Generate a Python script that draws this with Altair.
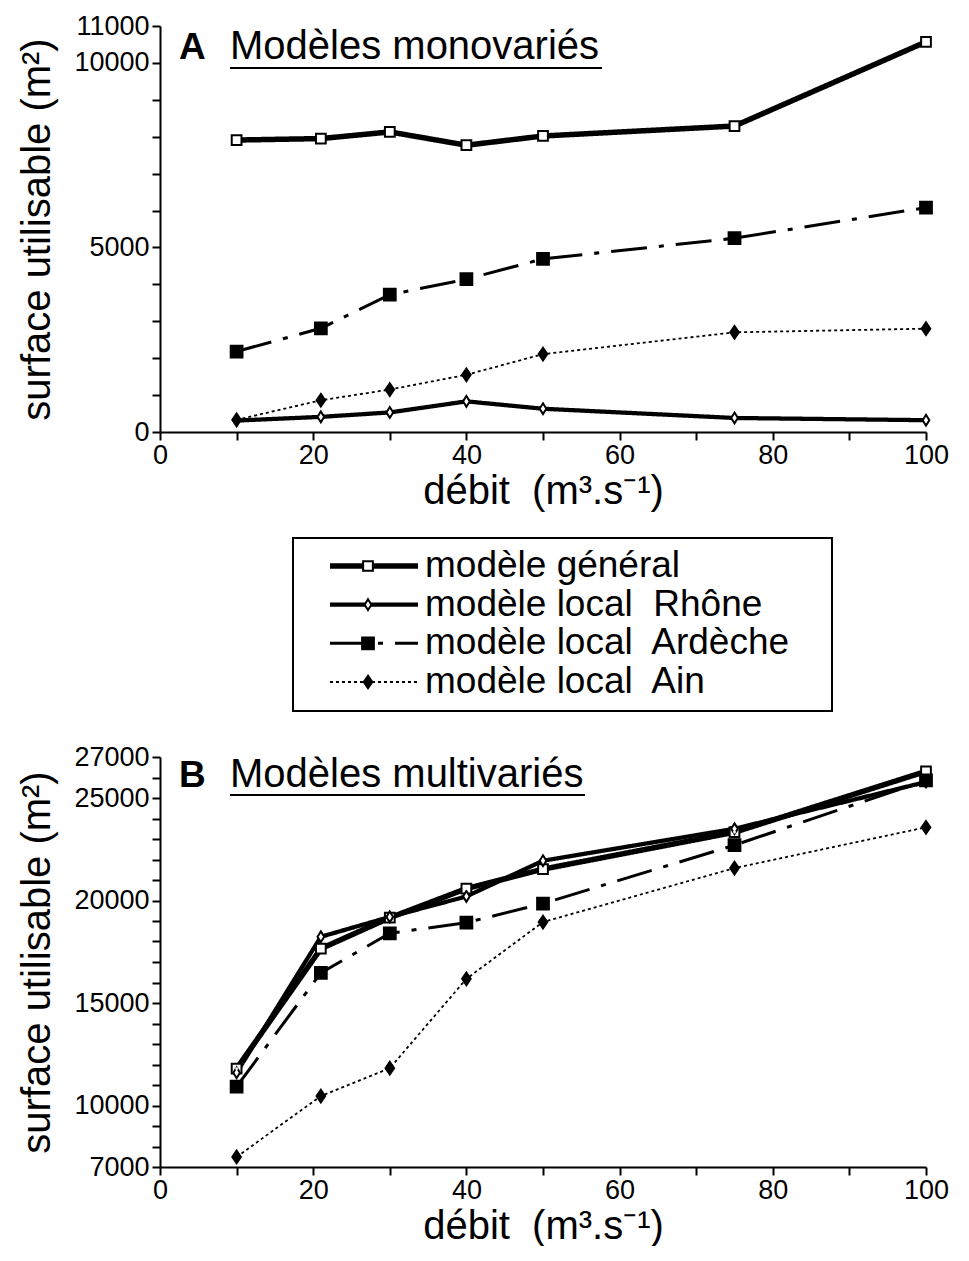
import altair as alt
import pandas as pd

# ---------------- data ----------------
DEBIT = [10, 21, 30, 40, 50, 75, 100]
NB = "\u00a0"
SERIES = ["modèle général", "modèle local" + NB + " Rhône", "modèle local" + NB + " Ardèche", "modèle local" + NB + " Ain"]

# Panel A : modèles monovariés (m2)
A_GENERAL = [7910, 7950, 8130, 7770, 8020, 8290, 10570]
A_RHONE = [310, 410, 530, 830, 630, 380, 320]
A_ARDECHE = [2180, 2810, 3720, 4140, 4690, 5250, 6080]
A_AIN = [330, 860, 1150, 1550, 2110, 2700, 2800]

# Panel B : modèles multivariés (m2)
B_GENERAL = [11800, 17650, 19160, 20580, 21530, 23330, 26300]
B_RHONE = [11600, 18230, 19200, 20200, 21940, 23500, 25780]
B_ARDECHE = [10920, 16470, 18400, 18920, 19850, 22700, 25860]
B_AIN = [7490, 10460, 11820, 16180, 18950, 21580, 23570]

A_YDOMAIN = [0, 11000]
A_YLABELS = [0, 5000, 10000, 11000]
B_YDOMAIN = [7000, 27000]
B_YLABELS = [7000, 10000, 15000, 20000, 25000, 27000]
X_LABELS = [0, 20, 40, 60, 80, 100]

A_LETTER, A_TITLE = "A", "Modèles monovariés"
B_LETTER, B_TITLE = "B", "Modèles multivariés"
Y_TITLE = "surface utilisable (m²)"
X_TITLE = "débit" + NB + " (m³.s⁻¹)"

FONT = "Liberation Sans"

# ---------------- styles ----------------
PW = 766
DASH_RANGE = [[1, 0], [1, 0], [36, 12, 5, 12], [3, 3]]
WIDTH_RANGE = [5.5, 1.8, 2, 2.8]
SHAPE_RANGE = ["square", "M0,-1L0.62,0L0,1L-0.62,0Z", "square", "M0,-1L0.68,0L0,1L-0.68,0Z"]
SIZE_RANGE = [95, 160, 115, 180]
FILL_RANGE = ["white", "white", "black", "black"]

dash_enc = alt.StrokeDash("series:N", scale=alt.Scale(domain=SERIES, range=DASH_RANGE), legend=None)
width_enc = alt.StrokeWidth("series:N", scale=alt.Scale(domain=SERIES, range=WIDTH_RANGE), legend=None)
shape_enc = alt.Shape("series:N", scale=alt.Scale(domain=SERIES, range=SHAPE_RANGE), legend=None)
size_enc = alt.Size("series:N", scale=alt.Scale(domain=SERIES, range=SIZE_RANGE), legend=None)
fill_enc = alt.Fill("series:N", scale=alt.Scale(domain=SERIES, range=FILL_RANGE), legend=None)

DOT_SERIES = [SERIES[0], SERIES[2]]
dot_fill = alt.Fill("series:N", scale=alt.Scale(domain=DOT_SERIES, range=["black", "white"]), legend=None)


def label_expr(vals):
    return "indexof([" + ",".join(str(v) for v in vals) + "], datum.value) >= 0 ? format(datum.value, 'd') : ''"


axis_style = dict(
    domainColor="black", domainWidth=2, tickColor="black", tickWidth=2, tickSize=8,
    labelFont=FONT, labelFontSize=27, labelColor="black", titleFont=FONT, titleFontSize=40,
    titleFontWeight="normal", titleColor="black", grid=False, labelOverlap=False, labelFlush=False,
)


def panel(vals, ydom, ylabels, letter, title, height, ty, uy, ux2):
    rows = []
    for s, arr in zip(SERIES, vals):
        for d, v in zip(DEBIT, arr):
            rows.append({"series": s, "debit": d, "surface": v})
    df = pd.DataFrame(rows)

    x = alt.X("debit:Q", scale=alt.Scale(domain=[0, 100], nice=False, zero=False),
              axis=alt.Axis(values=list(range(0, 101, 10)), labelExpr=label_expr(X_LABELS),
                            title=X_TITLE, labelPadding=2, titlePadding=3, **axis_style))
    y = alt.Y("surface:Q", scale=alt.Scale(domain=ydom, nice=False, zero=False),
              axis=alt.Axis(values=list(range(ydom[0], ydom[1] + 1, 1000)), labelExpr=label_expr(ylabels),
                            title=Y_TITLE, labelPadding=3, titlePadding=16, **axis_style))

    base = alt.Chart(df)
    lines = base.mark_line(color="black").encode(x=x, y=y, strokeDash=dash_enc, strokeWidth=width_enc,
                                                 detail="series:N", order="debit:Q")
    pts = base.mark_point(stroke="black", strokeWidth=2, opacity=1, filled=False).encode(
        x=x, y=y, shape=shape_enc, size=size_enc, fill=fill_enc)
    dots = base.transform_filter(alt.FieldOneOfPredicate(field="series", oneOf=DOT_SERIES)).mark_point(
        shape="square", size=6, strokeWidth=0, opacity=1).encode(x=x, y=y, fill=dot_fill)

    tdf = pd.DataFrame({"letter": [letter], "title": [title]})
    t1 = alt.Chart(tdf).mark_text(font=FONT, fontSize=37, fontWeight="bold", align="left",
                                  baseline="alphabetic", color="black").encode(
        text="letter:N", x=alt.value(19), y=alt.value(ty))
    t2 = alt.Chart(tdf).mark_text(font=FONT, fontSize=40, align="left", baseline="alphabetic",
                                  color="black").encode(text="title:N", x=alt.value(70), y=alt.value(ty))
    ul = alt.Chart(tdf).mark_rule(color="black", strokeWidth=2).encode(
        x=alt.value(70), x2=alt.value(ux2), y=alt.value(uy))
    return alt.layer(lines, pts, dots, t1, t2, ul).properties(width=PW, height=height)


chart_a = panel([A_GENERAL, A_RHONE, A_ARDECHE, A_AIN], A_YDOMAIN, A_YLABELS, A_LETTER, A_TITLE, 406, 33, 42, 442)
chart_b = panel([B_GENERAL, B_RHONE, B_ARDECHE, B_AIN], B_YDOMAIN, B_YLABELS, B_LETTER, B_TITLE, 410, 30, 38, 425)

# ---------------- legend panel ----------------
LEG_H = 232
leg_df = pd.DataFrame({"series": SERIES, "row": [0, 1, 2, 3]})
ly = alt.Y("row:Q", scale=alt.Scale(domain=[0, 3], range=[55, 171]), axis=None)
leg_base = alt.Chart(leg_df)
box = alt.Chart(pd.DataFrame({"k": [0]})).mark_rect(fill="white", stroke="black", strokeWidth=2).encode(
    x=alt.value(133), x2=alt.value(672), y=alt.value(27), y2=alt.value(200))
leg_lines = leg_base.mark_rule(color="black").encode(
    x=alt.value(170), x2=alt.value(258), y=ly, strokeDash=dash_enc, strokeWidth=width_enc)
leg_pts = leg_base.mark_point(stroke="black", strokeWidth=2, opacity=1, filled=False).encode(
    x=alt.value(208), y=ly, shape=shape_enc, size=size_enc, fill=fill_enc)
leg_dots = leg_base.transform_filter(alt.FieldOneOfPredicate(field="series", oneOf=DOT_SERIES)).mark_point(
    shape="square", size=6, strokeWidth=0, opacity=1).encode(x=alt.value(208), y=ly, fill=dot_fill)
leg_text = leg_base.mark_text(font=FONT, fontSize=37, align="left", baseline="middle", color="black").encode(
    text="series:N", x=alt.value(265), y=ly)
legend_chart = alt.layer(box, leg_lines, leg_pts, leg_dots, leg_text).properties(width=PW, height=LEG_H)

chart = alt.vconcat(chart_a, legend_chart, chart_b, spacing=0).properties(
    padding={"left": 9, "top": 4, "right": 0, "bottom": 0}, background="white"
).configure_view(stroke=None)

chart.save("out.html", embed_options={"renderer": "svg", "actions": False})
